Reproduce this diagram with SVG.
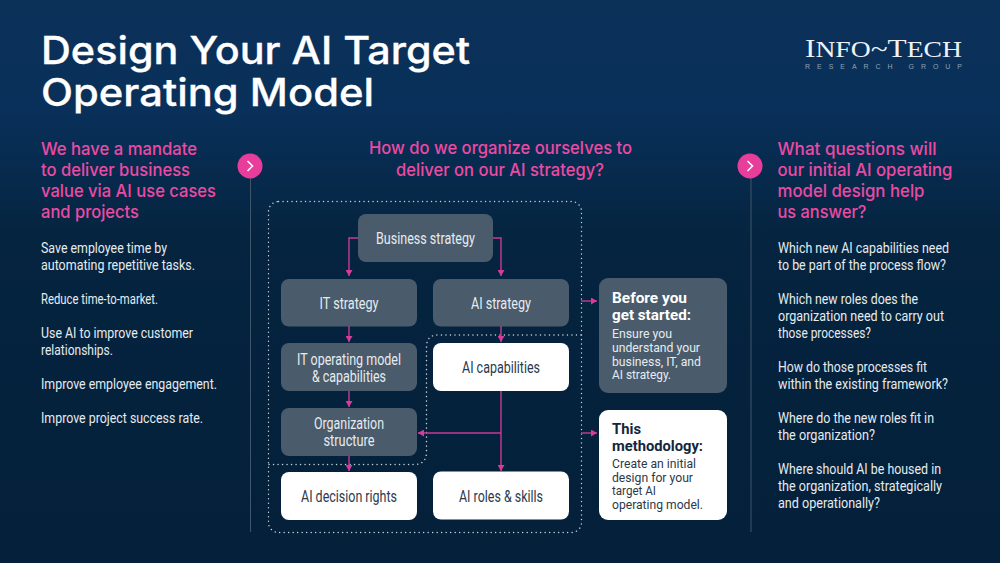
<svg xmlns="http://www.w3.org/2000/svg" width="1000" height="563" viewBox="0 0 1000 563">
<style>
.t{font-family:"Inter","Liberation Sans",sans-serif;font-size:38px;font-weight:500;fill:#fff;stroke:#fff;stroke-width:0.300px}
.h{font-family:"Inter","Liberation Sans",sans-serif;font-size:17.5px;font-weight:500;fill:#ec4aa3}
.b{font-family:"Roboto","Liberation Sans",sans-serif;font-size:15.5px;fill:#e6ebef}
.n{font-family:"Roboto","Liberation Sans",sans-serif;font-size:16.5px;text-anchor:middle}
.g rect{fill:#4a5b6b}.g text{fill:#e6ebef}
.w rect{fill:#fff}.w text{fill:#2b3a4c}
.ch{font-family:"Roboto","Liberation Sans",sans-serif;font-size:15.5px;font-weight:700}
.cb{font-family:"Roboto","Liberation Sans",sans-serif;font-size:13px}
.c path{fill:none;stroke:#c93a95;stroke-width:1.4}
.d{fill:none;stroke:#c9d3dc;stroke-width:1.4;stroke-dasharray:0.1 4.4;stroke-linecap:round}
.v{stroke:#3e566b;stroke-width:1}
</style>
<defs>
<linearGradient id="bg" x1="0" y1="0" x2="0" y2="1"><stop offset="0" stop-color="#0b3159"/><stop offset="0.2" stop-color="#09305a"/><stop offset="0.42" stop-color="#05243f"/><stop offset="1" stop-color="#04203a"/></linearGradient>
<marker id="a" markerUnits="userSpaceOnUse" markerWidth="7" markerHeight="7" refX="6" refY="3.5" orient="auto"><path d="M0 0L6 3.5L0 7Z" fill="#d63d9b"/></marker>
</defs>
<rect width="1000" height="563" fill="url(#bg)"/>
<g id="title"><text class="t" x="41" y="64" textLength="429" lengthAdjust="spacingAndGlyphs">Design Your AI Target</text><text class="t" x="41" y="106" textLength="333" lengthAdjust="spacingAndGlyphs">Operating Model</text></g>
<g id="logo" fill="#eef2f6">
<text x="805" y="57" font-family="'Liberation Serif',serif" font-size="26" textLength="157" lengthAdjust="spacingAndGlyphs">I<tspan font-size="23">NFO</tspan>~T<tspan font-size="23">ECH</tspan></text>
<text x="805" y="69" font-family="'Liberation Sans',sans-serif" font-size="7" fill="#8ea2b6" textLength="157">RESEARCH GROUP</text>
</g>
<g id="left-column">
<text class="h" x="41" y="155" textLength="156" lengthAdjust="spacingAndGlyphs">We have a mandate</text>
<text class="h" x="41" y="176" textLength="149" lengthAdjust="spacingAndGlyphs">to deliver business</text>
<text class="h" x="41" y="197" textLength="175" lengthAdjust="spacingAndGlyphs">value via AI use cases</text>
<text class="h" x="41" y="218" textLength="98" lengthAdjust="spacingAndGlyphs">and projects</text>
<text class="b" x="41" y="253" textLength="126" lengthAdjust="spacingAndGlyphs">Save employee time by</text>
<text class="b" x="41" y="270" textLength="154" lengthAdjust="spacingAndGlyphs">automating repetitive tasks.</text>
<text class="b" x="41" y="304" textLength="117" lengthAdjust="spacingAndGlyphs">Reduce time-to-market.</text>
<text class="b" x="41" y="338" textLength="152" lengthAdjust="spacingAndGlyphs">Use AI to improve customer</text>
<text class="b" x="41" y="355" textLength="72" lengthAdjust="spacingAndGlyphs">relationships.</text>
<text class="b" x="41" y="389" textLength="176" lengthAdjust="spacingAndGlyphs">Improve employee engagement.</text>
<text class="b" x="41" y="423" textLength="162" lengthAdjust="spacingAndGlyphs">Improve project success rate.</text>
</g>
<g id="center-heading">
<text class="h" x="369" y="154" textLength="263" lengthAdjust="spacingAndGlyphs">How do we organize ourselves to</text>
<text class="h" x="396" y="176" textLength="208" lengthAdjust="spacingAndGlyphs">deliver on our AI strategy?</text>
</g>
<g id="right-column">
<text class="h" x="777.500" y="155" textLength="159" lengthAdjust="spacingAndGlyphs">What questions will</text>
<text class="h" x="777.500" y="176" textLength="175" lengthAdjust="spacingAndGlyphs">our initial AI operating</text>
<text class="h" x="777.500" y="197" textLength="147" lengthAdjust="spacingAndGlyphs">model design help</text>
<text class="h" x="777.500" y="218" textLength="89" lengthAdjust="spacingAndGlyphs">us answer?</text>
<text class="b" x="778" y="253" textLength="171" lengthAdjust="spacingAndGlyphs">Which new AI capabilities need</text>
<text class="b" x="778" y="270" textLength="168" lengthAdjust="spacingAndGlyphs">to be part of the process flow?</text>
<text class="b" x="778" y="304" textLength="140" lengthAdjust="spacingAndGlyphs">Which new roles does the</text>
<text class="b" x="778" y="321" textLength="166" lengthAdjust="spacingAndGlyphs">organization need to carry out</text>
<text class="b" x="778" y="338" textLength="93" lengthAdjust="spacingAndGlyphs">those processes?</text>
<text class="b" x="778" y="372" textLength="149" lengthAdjust="spacingAndGlyphs">How do those processes fit</text>
<text class="b" x="778" y="389" textLength="170" lengthAdjust="spacingAndGlyphs">within the existing framework?</text>
<text class="b" x="778" y="423" textLength="156" lengthAdjust="spacingAndGlyphs">Where do the new roles fit in</text>
<text class="b" x="778" y="440" textLength="97" lengthAdjust="spacingAndGlyphs">the organization?</text>
<text class="b" x="778" y="474" textLength="163" lengthAdjust="spacingAndGlyphs">Where should AI be housed in</text>
<text class="b" x="778" y="491" textLength="164" lengthAdjust="spacingAndGlyphs">the organization, strategically</text>
<text class="b" x="778" y="508" textLength="102" lengthAdjust="spacingAndGlyphs">and operationally?</text>
</g>
<g id="dividers">
<line class="v" x1="250.500" y1="178" x2="250.500" y2="532"/>
<line class="v" x1="751" y1="178" x2="751" y2="532"/>
<g id="chevron-left"><circle cx="250" cy="166" r="12.500" fill="#e93d9c"/><path d="M247.500 161L252.500 166L247.500 171" fill="none" stroke="#fff" stroke-width="1.600"/></g>
<g id="chevron-right"><circle cx="750" cy="166" r="12.500" fill="#e93d9c"/><path d="M747.500 161L752.500 166L747.500 171" fill="none" stroke="#fff" stroke-width="1.600"/></g>
</g>
<g id="dotted-frames">
<rect class="d" x="268.500" y="201.500" width="313" height="331" rx="10"/>
<path class="d" d="M581 335H438Q426.500 335 426.500 347V452Q426.500 464.500 414 464.500H269"/>
</g>
<g id="business-strategy" class="g"><rect x="358" y="214" width="135" height="48" rx="8"/><text class="n" x="425.500" y="244" textLength="99" lengthAdjust="spacingAndGlyphs">Business strategy</text></g>
<g id="it-strategy" class="g"><rect x="281" y="279" width="136" height="47.500" rx="8"/><text class="n" x="349" y="309" textLength="59" lengthAdjust="spacingAndGlyphs">IT strategy</text></g>
<g id="ai-strategy" class="g"><rect x="433" y="279" width="136" height="47.500" rx="8"/><text class="n" x="501" y="309" textLength="60" lengthAdjust="spacingAndGlyphs">AI strategy</text></g>
<g id="it-operating-model" class="g"><rect x="281" y="343" width="136" height="48" rx="8"/><text class="n" x="349" y="365" textLength="104" lengthAdjust="spacingAndGlyphs">IT operating model</text><text class="n" x="349" y="382" textLength="74" lengthAdjust="spacingAndGlyphs">&amp; capabilities</text></g>
<g id="ai-capabilities" class="w"><rect x="433" y="343" width="136" height="48" rx="8"/><text class="n" x="501" y="373" textLength="78" lengthAdjust="spacingAndGlyphs">AI capabilities</text></g>
<g id="organization-structure" class="g"><rect x="281" y="408" width="136" height="48" rx="8"/><text class="n" x="349" y="429" textLength="70" lengthAdjust="spacingAndGlyphs">Organization</text><text class="n" x="349" y="446" textLength="51" lengthAdjust="spacingAndGlyphs">structure</text></g>
<g id="ai-decision-rights" class="w"><rect x="281" y="472" width="136" height="48" rx="8"/><text class="n" x="349" y="502" textLength="96" lengthAdjust="spacingAndGlyphs">AI decision rights</text></g>
<g id="ai-roles-skills" class="w"><rect x="433" y="471.500" width="136" height="48" rx="8"/><text class="n" x="501" y="502" textLength="84" lengthAdjust="spacingAndGlyphs">AI roles &amp; skills</text></g>
<g id="before-you-get-started" class="g"><rect x="599" y="278" width="128" height="115" rx="9"/>
<text class="ch" x="612" y="303" style="fill:#fff" textLength="75" lengthAdjust="spacingAndGlyphs">Before you</text><text class="ch" x="612" y="320" style="fill:#fff" textLength="79" lengthAdjust="spacingAndGlyphs">get started:</text>
<text class="cb" x="612" y="338" textLength="60" lengthAdjust="spacingAndGlyphs">Ensure you</text><text class="cb" x="612" y="352" textLength="88" lengthAdjust="spacingAndGlyphs">understand your</text><text class="cb" x="612" y="365.500" textLength="89" lengthAdjust="spacingAndGlyphs">business, IT, and</text><text class="cb" x="612" y="379" textLength="59" lengthAdjust="spacingAndGlyphs">AI strategy.</text></g>
<g id="this-methodology" class="w"><rect x="599" y="410" width="128" height="110" rx="9"/>
<text class="ch" x="612" y="434" style="fill:#14263c" textLength="29" lengthAdjust="spacingAndGlyphs">This</text><text class="ch" x="612" y="450.500" style="fill:#14263c" textLength="91" lengthAdjust="spacingAndGlyphs">methodology:</text>
<text class="cb" x="612" y="468" textLength="84" lengthAdjust="spacingAndGlyphs">Create an initial</text><text class="cb" x="612" y="481.500" textLength="81" lengthAdjust="spacingAndGlyphs">design for your</text><text class="cb" x="612" y="495" textLength="44" lengthAdjust="spacingAndGlyphs">target AI</text><text class="cb" x="612" y="509" textLength="91" lengthAdjust="spacingAndGlyphs">operating model.</text></g>
<g id="connectors" class="c">
<path d="M358 238H349V276" marker-end="url(#a)"/>
<path d="M493 238H501V276" marker-end="url(#a)"/>
<path d="M349 326V342" marker-end="url(#a)"/>
<path d="M501 326V342" marker-end="url(#a)"/>
<path d="M349 391V407" marker-end="url(#a)"/>
<path d="M349 456V471" marker-end="url(#a)"/>
<path d="M501 391V471" marker-end="url(#a)"/>
<path d="M501 433H418" marker-end="url(#a)"/>
<path d="M581 301H597" marker-end="url(#a)"/>
<path d="M581 433H597" marker-end="url(#a)"/>
</g>
</svg>
